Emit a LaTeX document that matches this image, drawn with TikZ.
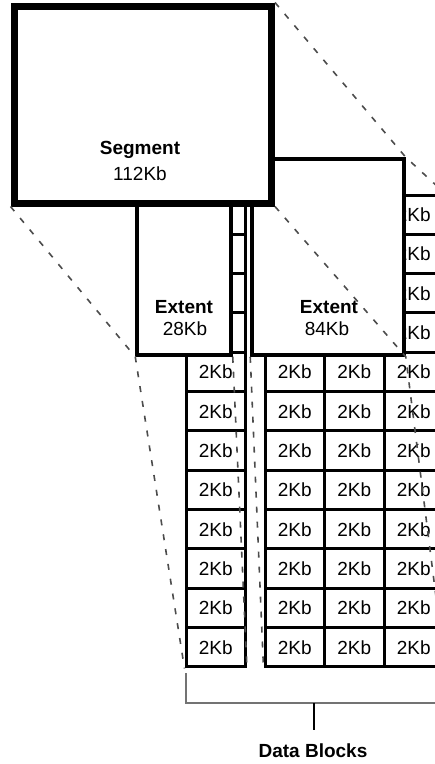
\documentclass[tikz,border=0pt]{standalone}
\usepackage{fontspec}
\setmainfont{Liberation Sans}
\begin{document}
\begin{tikzpicture}[x=1pt,y=-1pt,
  cell/.style={draw=black, line width=3pt, fill=white, minimum width=59.5pt, minimum height=39.33pt, inner sep=0pt, font=\fontsize{19}{19}\selectfont},
  extentbox/.style={draw=black, line width=3.5pt, fill=white, inner sep=0pt},
  segbox/.style={draw=black, line width=7pt, fill=white, inner sep=0pt},
  lbl/.style={font=\fontsize{19}{20}\selectfont, inner sep=0pt},
  blbl/.style={font=\fontsize{19}{20}\selectfont\bfseries, inner sep=0pt},
  guide/.style={draw=black!70, line width=1.6pt, dash pattern=on 6pt off 9pt},
  brace/.style={draw=black!55, line width=2pt}]
\useasboundingbox (0,0) rectangle (435,764);
\clip (0,0) rectangle (435,764);

% data block grids: left column
\foreach \r in {1,...,4} {
  \node[cell] (L\r) at (215.75, {195+39.33*(\r-0.5)}) {};
}
\foreach \r in {5,...,12} {
  \node[cell] (L\r) at (215.75, {195+39.33*(\r-0.5)}) {2Kb};
}
% right group, columns 1-3
\foreach \c in {1,2,3} {
  \foreach \r in {1,...,4} {
    \node[cell] (R\r-\c) at ({265+59.5*(\c-0.5)}, {195+39.33*(\r-0.5)}) {};
  }
  \foreach \r in {5,...,12} {
    \node[cell] (R\r-\c) at ({265+59.5*(\c-0.5)}, {195+39.33*(\r-0.5)}) {2Kb};
  }
}
% right group, column 4
\foreach \r in {1,...,12} {
  \node[cell] (R\r-4) at (413.75, {195+39.33*(\r-0.5)}) {2Kb};
}

% extents
\node[extentbox, minimum width=94pt, minimum height=196pt] (e28) at (184,257) {};
\node[extentbox, minimum width=152pt, minimum height=196pt] (e84) at (328,257) {};
\node[blbl, anchor=base] (e28t) at (184,313) {Extent};
\node[lbl, anchor=base] (e28n) at (185,335) {28Kb};
\node[blbl, anchor=base] (e84t) at (329,313) {Extent};
\node[lbl, anchor=base] (e84n) at (327,335) {84Kb};

% segment
\node[segbox, minimum width=257.5pt, minimum height=197pt] (seg) at (142.75,104.5) {};
\node[blbl, anchor=base] (segt) at (140,154) {Segment};
\node[lbl, anchor=base] (segn) at (140,180) {112Kb};

% guide lines
\draw[guide] (seg.north east) -- (e84.north east) -- (R1-4.north east);
\draw[guide] (seg.south west) -- (e28.south west) -- (L12.south west);
\draw[guide] (e28.south east) -- (L12.south east);
\draw[guide] (e84.south west) -- (R12-1.south west);
\draw[guide] (seg.south east) -- (e84.south east) -- (R12-4.south east);

% bracket
\coordinate (bL) at (186,673);
\coordinate (bR) at (443.5,673);
\coordinate (bM) at (314,703);
\draw[brace] (bL) -- ++(0,30) -| (bR);
\draw[black, line width=2pt] (bM) -- ++(0,27);
\node[blbl, anchor=base] (db) at (313,757) {Data Blocks};
\end{tikzpicture}
\end{document}
